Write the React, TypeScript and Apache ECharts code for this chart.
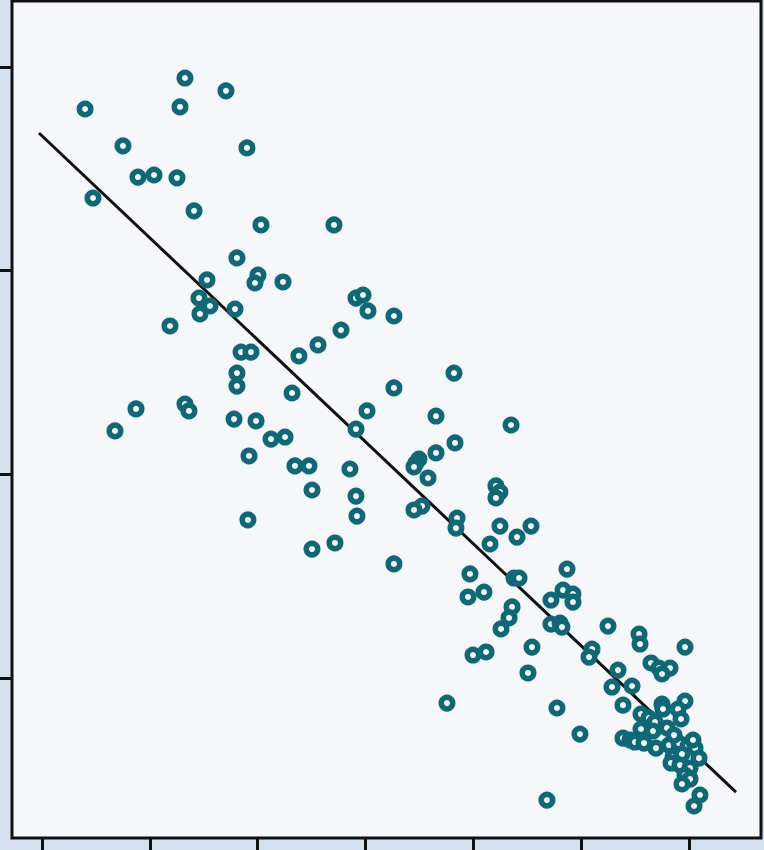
import React, { useEffect, useRef } from "react";
import * as echarts from "echarts";

// Tick positions (labels lie outside the visible frame)
const xTicks = [0, 10, 20, 30, 40, 50, 60];
const yTicks = [0, 10, 20, 30];

const xValues = [
  4.0, 13.26, 17.06, 12.8, 7.51, 19.01, 8.9, 10.39, 12.52, 4.73,
  14.1, 20.31, 27.08, 18.08, 15.3, 20.03, 19.75, 22.35, 14.56, 15.58,
  14.65, 17.9, 29.12, 29.77, 30.23, 32.64, 11.87, 27.73, 25.6, 23.83,
  18.46, 19.38, 18.08, 18.08, 32.64, 23.19, 38.21, 8.72, 13.26, 13.63,
  17.81, 19.85, 30.14, 36.54, 6.77, 29.12, 21.24, 22.54, 38.3, 43.5,
  36.54, 19.2, 34.96, 34.68, 34.5, 23.46, 24.76, 28.56, 35.8, 25.04,
  29.12, 42.1, 42.47, 42.1, 35.24, 34.5, 29.21, 19.1, 38.49, 38.39,
  42.47, 45.35, 44.05, 41.55, 27.17, 25.04, 32.64, 48.69, 39.69, 43.77,
  44.24, 48.32, 49.24, 49.24, 47.2, 40.99, 39.51, 43.59, 43.31, 47.2,
  48.04, 48.22, 52.49, 42.57, 55.37, 55.46, 45.44, 51.01, 41.18, 39.97,
  50.73, 59.63, 56.48, 57.22, 58.24, 53.42, 57.5, 45.07, 54.72, 52.86,
  37.56, 59.63, 53.88, 57.5, 57.59, 58.98, 47.76, 55.55, 56.29, 56.85,
  59.26, 57.96, 55.55, 56.66, 49.89, 53.88, 54.53, 54.99, 55.83, 56.94,
  58.15, 59.07, 59.91, 60.56, 58.52, 59.35, 60.93, 58.33, 59.17, 60.1,
  59.63, 60.1, 59.35, 61.02, 60.47, 46.83, 60.37, 58.61,
];

const yValues = [
  27.93, 29.45, 28.82, 28.03, 26.12, 26.02, 24.59, 24.69, 24.55, 23.56,
  22.93, 22.24, 22.24, 20.62, 19.54, 19.78, 19.39, 19.44, 18.65, 18.26,
  17.87, 18.11, 18.65, 18.8, 18.02, 17.77, 17.28, 17.08, 16.35, 15.81,
  16.0, 16.0, 14.97, 14.33, 14.24, 13.99, 14.97, 13.21, 13.45, 13.11,
  12.71, 12.62, 13.11, 12.86, 12.13, 12.22, 11.73, 11.83, 11.54, 12.42,
  11.05, 10.9, 10.75, 10.55, 10.36, 10.41, 10.41, 10.26, 9.82, 9.23,
  8.93, 9.43, 9.13, 8.84, 8.44, 8.25, 7.95, 7.76, 7.85, 7.36,
  7.46, 7.46, 6.92, 6.58, 6.63, 6.33, 5.6, 5.35, 5.11, 4.91,
  4.91, 4.32, 4.12, 3.73, 3.83, 4.22, 3.98, 3.49, 2.95, 2.65,
  2.7, 2.5, 2.55, 2.41, 2.16, 1.67, 1.52, 1.42, 1.28, 1.13,
  1.03, 1.52, 0.74, 0.49, 0.49, 0.39, 0.2, 0.25, -0.39, -0.44,
  -1.23, -1.13, -1.33, -1.28, -1.52, -1.52, -1.47, -1.77, -1.96, -2.16,
  -2.01, -2.45, -2.5, -2.6, -2.75, -2.95, -3.04, -3.14, -3.19, -3.44,
  -3.29, -3.19, -3.34, -3.44, -3.88, -3.73, -3.93, -4.17, -4.27, -4.42,
  -4.76, -4.96, -5.2, -5.74, -6.28, -5.99, -3.04, -2.8,
];

// Fitted trend line end points
const trendX = [-0.28, 64.36];
const trendY = [26.75, -5.6];

const X_MIN = -2.78;
const X_MAX = 66.68;
const Y_MIN = -7.85;
const Y_MAX = 33.23;

export default function App() {
  const ref = useRef<HTMLDivElement>(null);

  useEffect(() => {
    if (!ref.current) return;
    const chart = echarts.init(ref.current, undefined, { renderer: "svg" });
    const points = xValues.map((x, i) => [x, yValues[i]]);
    const trend = trendX.map((x, i) => [x, trendY[i]]);
    const axisLine = { show: false, onZero: false };
    const tickStyle = { color: "#111111", width: 3 };
    chart.setOption({
      animation: false,
      backgroundColor: "#d5e1ef",
      grid: {
        left: 12,
        right: 3,
        top: 1,
        bottom: 12,
        show: true,
        backgroundColor: "#f5f7fa",
        borderColor: "#111111",
        borderWidth: 3,
        containLabel: false,
      },
      xAxis: {
        type: "value",
        position: "bottom",
        min: X_MIN,
        max: X_MAX,
        axisLine,
        splitLine: { show: false },
        axisLabel: { show: false },
        axisTick: {
          show: true,
          length: 12,
          inside: false,
          customValues: xTicks,
          lineStyle: tickStyle,
        },
      },
      yAxis: {
        type: "value",
        position: "left",
        min: Y_MIN,
        max: Y_MAX,
        axisLine,
        splitLine: { show: false },
        axisLabel: { show: false },
        axisTick: {
          show: true,
          length: 12,
          inside: false,
          customValues: yTicks,
          lineStyle: tickStyle,
        },
      },
      series: [
        {
          type: "line",
          data: trend,
          showSymbol: false,
          symbol: "none",
          lineStyle: { color: "#111111", width: 3 },
          z: 1,
        },
        {
          type: "scatter",
          data: points,
          symbol: "circle",
          symbolSize: 11.5,
          itemStyle: {
            color: "#f5f7fa",
            borderColor: "#0f6875",
            borderWidth: 5.5,
            opacity: 1,
          },
          z: 2,
        },
      ],
    });
    return () => chart.dispose();
  }, []);

  return (
    <div
      ref={ref}
      style={{ position: "fixed", left: 0, top: 0, width: 764, height: 850 }}
    />
  );
}
